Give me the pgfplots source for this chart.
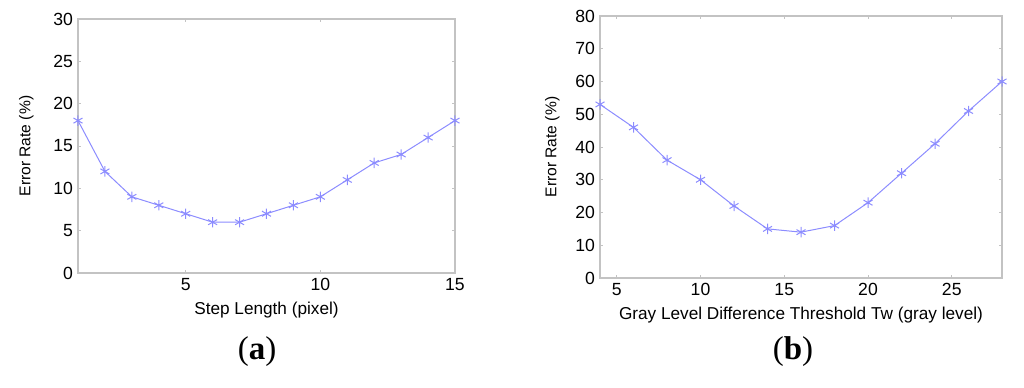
\documentclass[border=0pt]{standalone}
\usepackage{pgfplots}
\pgfplotsset{compat=1.18}
\usepackage{fontspec}
\setmainfont{Liberation Sans}
\newfontfamily\serifbf{Liberation Serif}
\definecolor{axgray}{RGB}{195,195,195}
\definecolor{lineblue}{RGB}{140,140,255}
\pgfplotsset{
  every axis/.append style={
    scale only axis,
    anchor=south west,
    axis line style={axgray, line width=0.6pt},
    tick style={axgray, line width=0.5pt},
    major tick length=1.6pt,
    tick align=inside,
    xtick pos=both, ytick pos=both,
    tick label style={font=\fontsize{8.8}{10}\selectfont},
    label style={font=\fontsize{8.6}{10}\selectfont},
    ylabel style={font=\fontsize{7.8}{9}\selectfont},
    /pgf/number format/assume math mode=true,
    xticklabel style={yshift=1pt},
    yticklabel style={xshift=1pt},
  }
}
\begin{document}
\begin{tikzpicture}
\path[use as bounding box] (0,0) rectangle (512pt,193.5pt);
% (a)
\begin{axis}[
  at={(39pt,57pt)},
  width=188.5pt, height=127pt,
  xmin=1, xmax=15, ymin=0, ymax=30,
  xtick={5,10,15}, ytick={0,5,...,30},
  xlabel={Step Length (pixel)},
  ylabel={Error Rate (\%)},
  xlabel style={yshift=1pt},
  ylabel style={yshift=3pt},
]
\addplot[color=lineblue, line width=0.5pt, mark=asterisk, mark size=2.6pt, mark options={color=blue!45}] coordinates {
(1,18)(2,12)(3,9)(4,8)(5,7)(6,6)(7,6)(8,7)(9,8)(10,9)(11,11)(12,13)(13,14)(14,16)(15,18)};
\end{axis}
% (b)
\begin{axis}[
  at={(300pt,54.5pt)},
  width=201pt, height=131pt,
  xmin=4, xmax=28, ymin=0, ymax=80,
  xtick={5,10,...,25}, ytick={0,10,...,80},
  xlabel={Gray Level Difference Threshold Tw (gray level)},
  ylabel={Error Rate (\%)},
  xlabel style={yshift=1pt},
  ylabel style={yshift=1pt},
]
\addplot[color=lineblue, line width=0.5pt, mark=asterisk, mark size=2.6pt, mark options={color=blue!45}] coordinates {
(4,53)(6,46)(8,36)(10,30)(12,22)(14,15)(16,14)(18,16)(20,23)(22,32)(24,41)(26,51)(28,60)};
\end{axis}
\node at (128.5pt,17.5pt) {\serifbf\fontsize{16.5}{18}\selectfont (\textbf{a})};
\node at (396.5pt,17.5pt) {\serifbf\fontsize{16.5}{18}\selectfont (\textbf{b})};
\end{tikzpicture}
\end{document}
